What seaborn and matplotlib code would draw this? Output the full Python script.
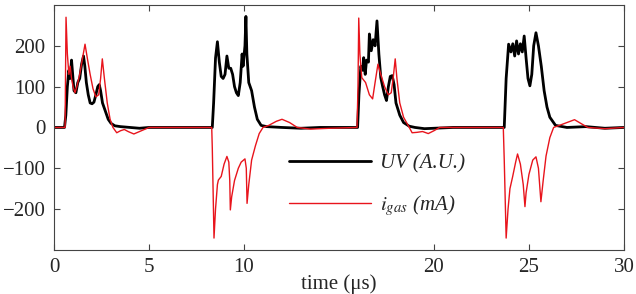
import numpy as np
import pandas as pd
import matplotlib
matplotlib.use("Agg")
import matplotlib.pyplot as plt
import seaborn as sns

# UV signal (A.U.)
t_uv = [0, 0.55, 0.62, 0.7, 0.78, 0.85, 0.92, 0.98, 1.05, 1.15, 1.25, 1.35, 1.45, 1.55, 1.62,
        1.7, 1.8, 1.9, 2.0, 2.1, 2.2, 2.3, 2.38, 2.45, 2.55, 2.7, 2.85, 3.0, 3.2, 3.5, 4.0, 4.5,
        5.0, 6.0, 7.0, 8.0, 8.3,
        8.33, 8.4, 8.5, 8.6, 8.7, 8.8, 8.9, 9.0, 9.1, 9.2, 9.3, 9.4, 9.5, 9.6, 9.7, 9.8, 9.9,
        9.95, 10.05, 10.1, 10.15, 10.25, 10.4, 10.55, 10.7, 10.9, 11.2, 12.0, 13.0, 14.0, 15.9,
        15.98, 16.05, 16.15, 16.25, 16.3, 16.38, 16.45, 16.55, 16.6, 16.7, 16.8, 16.9, 17.0,
        17.1, 17.2, 17.3, 17.4, 17.5, 17.6, 17.7, 17.8, 17.9, 18.0, 18.2, 18.4, 18.7, 19.0,
        19.5, 20.0, 21.0, 23.65,
        23.7, 23.8, 23.93, 24.05, 24.15, 24.25, 24.35, 24.45, 24.55, 24.65, 24.75, 24.85,
        24.95, 25.05, 25.15, 25.25, 25.37, 25.5, 25.65, 25.8, 25.95, 26.1, 26.4, 27.0, 28.0,
        29.0, 30.0]
uv = [0, 0, 30, 100, 140, 120, 165, 130, 90, 85, 110, 120, 155, 175, 150,
      110, 80, 60, 58, 62, 80, 100, 105, 90, 60, 40, 20, 10, 4, 2, 0, -2,
      0, 0, 0, 0, 0,
      0, 60, 170, 210, 160, 125, 120, 130, 175, 145, 145, 130, 100, 85, 78, 110, 180,
      150, 200, 272, 180, 110, 90, 50, 20, 5, 2, 0, -2, 0, 0,
      0, 80, 150, 140, 171, 130, 165, 160, 229, 188, 215, 200, 261,
      180, 122, 100, 80, 66, 100, 125, 127, 105, 60, 30, 12, 3, 0,
      -3, -2, 0, 0,
      0, 120, 204, 185, 205, 175, 212, 180, 205, 185, 224, 170,
      120, 102, 130, 200, 232, 200, 150, 90, 50, 25, 5, 0, 2,
      -2, 0]

# gas current (mA)
t_gas = [0, 0.58, 0.63, 0.7, 0.78, 0.85, 0.92, 1.0, 1.1, 1.2, 1.35, 1.5, 1.63, 1.75, 1.9,
         2.05, 2.2, 2.35, 2.45, 2.54, 2.65, 2.8, 2.95, 3.1, 3.3, 3.5, 3.7, 3.9, 4.2, 4.5, 5.0,
         6.0, 7.0, 8.3,
         8.33, 8.42, 8.5, 8.6, 8.65, 8.8, 8.95, 9.1, 9.2, 9.25, 9.28, 9.35, 9.5, 9.7, 9.85,
         10.05, 10.12, 10.16, 10.25, 10.4, 10.6, 10.8, 11.0, 11.3, 11.7, 12.0, 12.4, 12.8,
         13.5, 14.5, 15.95,
         16.0, 16.04, 16.1, 16.2, 16.4, 16.6, 16.77, 16.9, 17.05, 17.2, 17.4, 17.6, 17.75,
         17.85, 17.96, 18.05, 18.2, 18.4, 18.7, 18.85, 19.1, 19.4, 19.7, 20.0, 20.3, 22.0,
         23.65,
         23.7, 23.8, 23.9, 24.0, 24.14, 24.3, 24.4, 24.55, 24.7, 24.79, 24.85, 25.0, 25.2,
         25.37, 25.5, 25.63, 25.75, 25.9, 26.1, 26.3, 26.6, 27.0, 27.4, 27.8, 28.1, 29.0, 30.0]
i_gas = [0, 0, 270, 180, 130, 150, 120, 100, 85, 100, 130, 170, 204, 170, 130,
         95, 75, 80, 120, 168, 120, 60, 20, 0, -13, -8, -5, -10, -16, -10, 0,
         0, 0, 0,
         -50, -271, -200, -140, -129, -120, -90, -71, -85, -130, -202, -170, -130, -100, -85,
         -77, -100, -186, -140, -80, -45, -15, 0, 5, 15, 20, 12, 0,
         -4, -2, 0,
         100, 268, 180, 122, 110, 80, 70, 110, 155, 130, 100, 80, 85,
         120, 168, 120, 60, 25, 0, -13, -12, -10, -15, -8, 0, 0,
         0,
         -80, -271, -200, -150, -121, -85, -65, -90, -140, -194, -160, -115, -80,
         -72, -100, -182, -130, -70, -25, 0, 5, 12, 19, 8, 0, -3, 0]

x_ticks = [0, 5, 10, 20, 25, 30]
y_ticks = [-200, -100, 0, 100, 200]

sns.set_style("ticks")
plt.rcParams['font.family'] = ['Liberation Serif', 'DejaVu Serif']
plt.rcParams['mathtext.fontset'] = 'stix'
plt.rcParams['axes.unicode_minus'] = True

df_uv = pd.DataFrame({'t': t_uv, 'v': uv})
df_gas = pd.DataFrame({'t': t_gas, 'v': i_gas})

fig, ax = plt.subplots(figsize=(6.36, 2.94), dpi=100)
fig.subplots_adjust(left=0.085, right=0.981, bottom=0.150, top=0.983)

sns.lineplot(data=df_uv, x='t', y='v', color='black', lw=2.0, sort=False,
             estimator=None, ax=ax, label='UV (A.U.)')
sns.lineplot(data=df_gas, x='t', y='v', color='#e8141c', lw=1.0, sort=False,
             estimator=None, ax=ax, label=r'$i_{gas}$ (mA)')

ax.set_xlim(0, 30)
ax.set_ylim(-300, 300)
ax.set_xticks(x_ticks)
ax.set_yticks(y_ticks)
ax.tick_params(direction='in', top=True, right=True, labelsize=15, length=4,
               color='#444444', pad=6)
for s in ax.spines.values():
    s.set_color('#444444')
ax.set_xlabel('time (μs)', fontsize=15, labelpad=-2)
ax.set_ylabel('')

ax.legend(loc='upper left', bbox_to_anchor=(0.38, 0.47), frameon=False,
          handlelength=3.9, labelspacing=0.95, handletextpad=0.45,
          prop={'style': 'italic', 'size': 15, 'family': 'Liberation Serif'})

fig.savefig('out.png', dpi=100)
